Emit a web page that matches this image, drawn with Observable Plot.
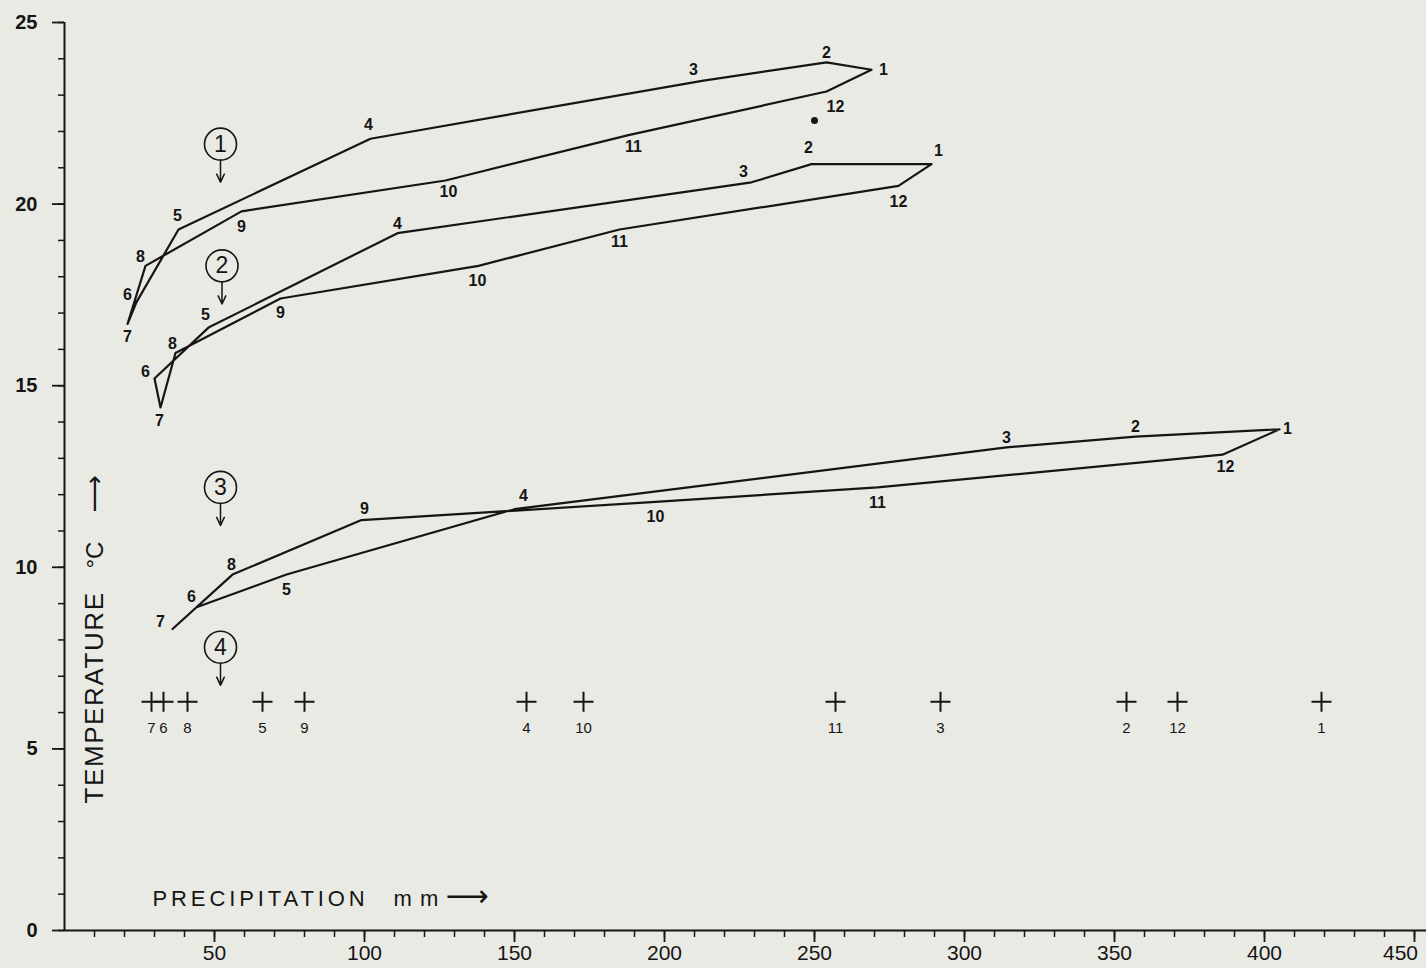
<!DOCTYPE html>
<html><head><meta charset="utf-8">
<script src="https://cdn.jsdelivr.net/npm/d3@7"></script>
<script src="https://cdn.jsdelivr.net/npm/@observablehq/plot@0.6"></script>
<style>
html,body{margin:0;padding:0;background:#e9eae4;}
#chart svg{display:block;}
</style></head><body><div id="chart"></div>
<script>
// ---- data ----
const months = [1, 2, 3, 4, 5, 6, 7, 8, 9, 10, 11, 12];

const st1Precip = [269, 254, 213, 102, 38, 24, 21, 27, 59, 127, 188, 254];
const st1Temp   = [23.7, 23.9, 23.4, 21.8, 19.3, 17.3, 16.7, 18.3, 19.8, 20.65, 21.9, 23.1];
const st1DotPrecip = [250];
const st1DotTemp   = [22.3];

const st2Precip = [289, 249, 229, 111, 48, 30, 32, 37, 72, 138, 185, 278];
const st2Temp   = [21.1, 21.1, 20.6, 19.2, 16.6, 15.2, 14.4, 15.9, 17.4, 18.3, 19.3, 20.5];

const st3Precip = [405, 357, 314, 150, 74, 44, 36, 56, 99, 197, 271, 386];
const st3Temp   = [13.8, 13.6, 13.3, 11.6, 9.8, 8.9, 8.3, 9.8, 11.3, 11.8, 12.2, 13.1];

const st4Precip = [419, 354, 292, 154, 66, 33, 29, 41, 80, 173, 257, 371];
const st4Temp   = [6.3, 6.3, 6.3, 6.3, 6.3, 6.3, 6.3, 6.3, 6.3, 6.3, 6.3, 6.3];

// station tags (circled numbers with arrows)
const tagLabels   = ["1", "2", "3", "4"];
const tagPrecip   = [52, 52.5, 52, 52];
const tagTemp     = [21.65, 18.3, 12.2, 7.8];
const tagArrowEnd = [20.6, 17.25, 11.15, 6.75];

const xMajorTicks = [50, 100, 150, 200, 250, 300, 350, 400, 450];
const xLastTick = [450];
const xMinorTicks = [10,20,30,40,50,60,70,80,90,100,110,120,130,140,150,160,170,180,190,200,210,220,230,240,250,260,270,280,290,300,310,320,330,340,350,360,370,380,390,400,410,420,430,440,450];
const yMajorTicks = [0, 5, 10, 15, 20, 25];
const yMinorTicks = [0,1,2,3,4,5,6,7,8,9,10,11,12,13,14,15,16,17,18,19,20,21,22,23,24,25];

// ---- label offsets (styling, pixels) ----
const st1Dx = [12, 0, -10, -2, -1, -9, 0, -5, 0, 3, 5, 9];
const st1Dy = [0, -10, -11, -14, -14, -7, 13, -9, 16, 11, 12, 15];
const st2Dx = [7, -3, -8, 0, -3, -9, -1, -3, 0, -1, 0, 0];
const st2Dy = [-13, -16, -10, -9, -13, -7, 13, -9, 14, 15, 12, 16];
const st3Dx = [8, 0, 0, 9, 0, -5, -12, -1, 3, 0, 0, 3];
const st3Dy = [0, -10, -10, -13, 15, -10, -7, -10, -11, 15, 15, 12];

// ---- build tables ----
const loops = [
  {s: 1, P: st1Precip, T: st1Temp, dx: st1Dx, dy: st1Dy},
  {s: 2, P: st2Precip, T: st2Temp, dx: st2Dx, dy: st2Dy},
  {s: 3, P: st3Precip, T: st3Temp, dx: st3Dx, dy: st3Dy}
];
const loopRows = [];
loops.forEach(({s, P, T}) => {
  months.forEach((m, i) => loopRows.push({station: s, month: m, precip: P[i], temp: T[i]}));
  loopRows.push({station: s, month: months[0], precip: P[0], temp: T[0]});
});
const st4Rows = months.map((m, i) => ({month: m, precip: st4Precip[i], temp: st4Temp[i]}));
const tagRows = tagLabels.map((t, i) => ({label: t, precip: tagPrecip[i], temp: tagTemp[i], end: tagArrowEnd[i]}));
const dotRows = st1DotPrecip.map((p, i) => ({precip: p, temp: st1DotTemp[i]}));

const ink = "#151515";
const font = "Liberation Sans, Arial, sans-serif";

const labelMarks = [];
loops.forEach(({s, P, T, dx, dy}) => {
  months.forEach((m, i) => {
    labelMarks.push(Plot.text([{precip: P[i], temp: T[i], month: m}], {
      x: "precip", y: "temp", text: d => String(d.month),
      dx: dx[i], dy: dy[i], fontSize: 16, fontWeight: "bold", fill: ink, fontFamily: font
    }));
  });
});

const chart = Plot.plot({
  width: 1426,
  height: 968,
  marginLeft: 64,
  marginRight: 0,
  marginTop: 22,
  marginBottom: 38,
  style: {background: "#e9eae4", fontFamily: font, color: ink},
  x: {domain: [0, 454], label: null},
  y: {domain: [0, 25], label: null},
  marks: [
    Plot.axisX({ticks: xMinorTicks, tickSize: 7, tickFormat: () => "", label: null, strokeWidth: 1.5}),
    Plot.axisX({ticks: xMajorTicks, tickSize: 12, tickPadding: 3, fontSize: 21, label: null, strokeWidth: 1.8,
                tickFormat: d => (xLastTick.includes(d) ? "" : String(d))}),
    Plot.axisX({ticks: xLastTick, tickSize: 0, tickPadding: 15, fontSize: 21, label: null, dx: -14}),
    Plot.axisY({ticks: yMinorTicks, tickSize: 6, tickFormat: () => "", label: null, strokeWidth: 1.5}),
    Plot.axisY({ticks: yMajorTicks, tickSize: 12, tickPadding: 15, fontSize: 20, fontWeight: "bold", label: null, strokeWidth: 1.8}),
    Plot.ruleY([0], {stroke: ink, strokeWidth: 2}),
    Plot.ruleX([0], {stroke: ink, strokeWidth: 2}),
    Plot.line(loopRows, {x: "precip", y: "temp", z: "station", stroke: ink, strokeWidth: 2.2, strokeLinejoin: "round"}),
    Plot.dot(dotRows, {x: "precip", y: "temp", r: 3.5, fill: ink}),
    ...labelMarks,
    Plot.dot(st4Rows, {x: "precip", y: "temp", symbol: "plus", r: 6.5, stroke: ink, strokeWidth: 2}),
    Plot.text(st4Rows, {x: "precip", y: "temp", text: d => String(d.month), dy: 27, fontSize: 15, fill: ink, fontFamily: font}),
    Plot.dot(tagRows, {x: "precip", y: "temp", r: 16, stroke: ink, strokeWidth: 1.6, fill: "none"}),
    Plot.text(tagRows, {x: "precip", y: "temp", text: "label", fontSize: 23, fill: ink, fontFamily: font}),
    Plot.arrow(tagRows, {x1: "precip", y1: "temp", x2: "precip", y2: "end", insetStart: 16, headLength: 9, headAngle: 50, stroke: ink, strokeWidth: 1.5}),
    Plot.text(["TEMPERATURE"], {frameAnchor: "bottom-left", dx: 38, dy: -127, rotate: -90, textAnchor: "start", fontSize: 26, fill: ink, fontFamily: font}),
    Plot.text(["°C"], {frameAnchor: "bottom-left", dx: 38, dy: -362, rotate: -90, textAnchor: "start", fontSize: 24, fill: ink, fontFamily: font}),
    Plot.text(["⟶"], {frameAnchor: "bottom-left", dx: 38, dy: -418, rotate: -90, textAnchor: "start", fontSize: 26, fill: ink, fontFamily: "DejaVu Sans"}),
    Plot.text(["PRECIPITATION"], {frameAnchor: "bottom-left", dx: 88, dy: -25, textAnchor: "start", fontSize: 22, fill: ink, fontFamily: font}),
    Plot.text(["m m"], {frameAnchor: "bottom-left", dx: 329, dy: -25, textAnchor: "start", fontSize: 22, fill: ink, fontFamily: font}),
    Plot.text(["⟶"], {frameAnchor: "bottom-left", dx: 381, dy: -25, textAnchor: "start", fontSize: 30, fill: ink, fontFamily: "DejaVu Sans"})
  ]
});

d3.select(chart).selectAll("text").each(function() {
  const t = this.textContent;
  if (t === "PRECIPITATION") d3.select(this).attr("letter-spacing", "3.9px");
  if (t === "TEMPERATURE") d3.select(this).attr("letter-spacing", "1.6px");
  if (t === "m m") d3.select(this).attr("letter-spacing", "1px");
});

document.getElementById("chart").append(chart);
</script></body></html>
